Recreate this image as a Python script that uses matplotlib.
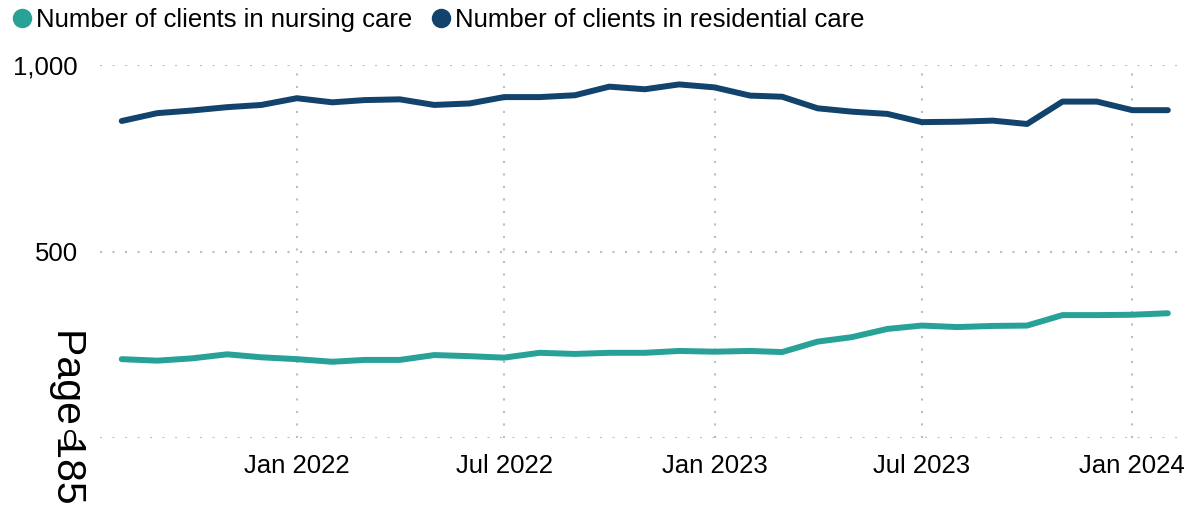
import matplotlib
matplotlib.use("Agg")
import matplotlib.pyplot as plt
import matplotlib.dates as mdates
from matplotlib.lines import Line2D
import numpy as np

# monthly figures, Aug 2021 - Feb 2024
months = np.arange("2021-08", "2024-03", dtype="datetime64[M]").astype("datetime64[D]")
residential = [850, 871, 878, 887, 893, 911, 900, 906, 908, 893, 897, 914, 914, 919,
               942, 935, 948, 940, 918, 915, 884, 875, 869, 847, 848, 851, 842, 902,
               902, 879, 879]
nursing = [212, 208, 214, 225, 217, 212, 205, 210, 210, 223, 220, 216, 229, 226,
           229, 229, 234, 232, 234, 231, 259, 271, 293, 302, 298, 301, 302, 330,
           330, 331, 335]
y_ticks = [0, 500, 1000]
y_labels = ["0", "500", "1,000"]
x_ticks = ["2022-01-01", "2022-07-01", "2023-01-01", "2023-07-01", "2024-01-01"]

TEAL = "#28A197"
NAVY = "#12436D"

plt.rcParams["font.family"] = ["Liberation Sans", "DejaVu Sans"]


def to_dt(d):
    return np.datetime64(d).astype("datetime64[ms]").tolist()


fig = plt.figure(figsize=(11.89, 5.11), dpi=100)
ax = fig.add_axes([100 / 1189, 1 - 438.3 / 511, 1085 / 1189, (438.3 - 65) / 511])

dates = months.astype("datetime64[ms]").tolist()
ax.plot(dates, nursing, color=TEAL, lw=4.3, solid_capstyle="round", solid_joinstyle="round")
ax.plot(dates, residential, color=NAVY, lw=4.3, solid_capstyle="round", solid_joinstyle="round")

ax.set_ylim(0, 1000)
ax.set_yticks(y_ticks, y_labels)
ax.set_xlim(to_dt("2021-07-13"), to_dt("2024-02-16"))
ax.set_xticks([to_dt(d) for d in x_ticks])
ax.xaxis.set_major_formatter(mdates.DateFormatter("%b %Y"))

for s in ax.spines.values():
    s.set_visible(False)
ax.tick_params(axis="both", length=0, labelsize=18.5, colors="black")
ax.tick_params(axis="y", pad=16)
ax.tick_params(axis="x", pad=11)
ax.grid(True, color="#bdbdbd", linestyle=(0, (1, 5)), linewidth=1.5)
ax.set_axisbelow(True)

handles = [
    Line2D([], [], marker="o", linestyle="none", markersize=13, color=TEAL),
    Line2D([], [], marker="o", linestyle="none", markersize=13, color=NAVY),
]
fig.legend(handles, ["Number of clients in nursing care", "Number of clients in residential care"],
           loc="upper left", bbox_to_anchor=(-0.004, 1.02), ncol=2, frameon=False,
           fontsize=18.5, handlelength=0.7, handletextpad=0.2, columnspacing=0.75,
           borderaxespad=0.3)

fig.text(68 / 1189, 1 - 328 / 511, "Page 185", rotation=270, fontsize=29.5,
         ha="center", va="top")

fig.savefig("out.png", dpi=100)
